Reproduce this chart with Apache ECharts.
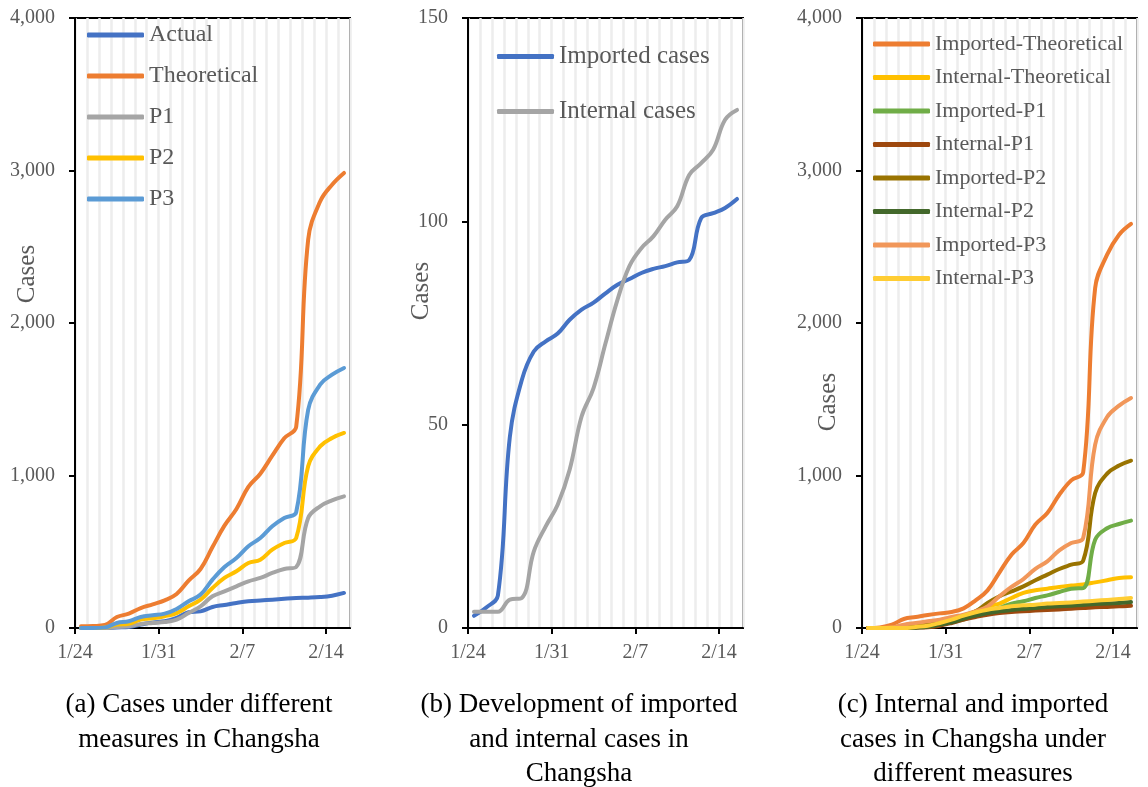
<!DOCTYPE html>
<html>
<head>
<meta charset="utf-8">
<script src="https://cdn.jsdelivr.net/npm/echarts@6/dist/echarts.min.js"></script>
<style>
html, body { margin: 0; padding: 0; background: #fff; }
#chart { width: 1148px; height: 787px; }
</style>
</head>
<body>
<div id="chart"></div>
<script>
// day index 0 = 1/24 ... 22 = 2/15
const tickDays = [0, 7, 14, 21];
const tickLabels = ['1/24', '1/31', '2/7', '2/14'];

// (a) cases under different measures
const actual      = [0, 0, 0, 4, 7, 22, 37, 44, 66, 103, 109, 138, 151, 164, 175, 181, 186, 192, 197, 199, 203, 212, 230];
const theoretical = [11, 13, 20, 72, 94, 131, 155, 181, 223, 310, 387, 531, 671, 780, 925, 1012, 1130, 1244, 1320, 2546, 2797, 2907, 2984];
const p1          = [0, 0, 0, 7, 11, 26, 33, 39, 55, 98, 142, 208, 240, 273, 306, 328, 361, 387, 400, 721, 798, 837, 863];
const p2          = [0, 0, 4, 22, 28, 55, 63, 77, 98, 142, 186, 262, 328, 372, 426, 448, 514, 557, 590, 1060, 1191, 1246, 1279];
const p3          = [0, 0, 4, 33, 44, 72, 83, 94, 125, 175, 219, 317, 400, 459, 536, 590, 667, 721, 759, 1430, 1596, 1661, 1705];

// (b) imported and internal cases
const importedCases = [3, 5, 8, 47, 61, 68, 70.5, 72.4, 75.8, 78.3, 80, 82.3, 84.4, 85.8, 87.3, 88.3, 89, 89.9, 90.5, 100.8, 102, 103.3, 105.5];
const internalCases = [4, 4, 4, 7, 7.4, 18.8, 25, 30.3, 38.9, 52, 59, 70, 80.7, 89, 93.4, 96.3, 100.4, 103.7, 111.4, 114.3, 117.6, 125, 127.4];

// (c) internal and imported cases under different measures
const impTheo = [0, 4, 22, 59, 72, 85, 96, 105, 129, 181, 247, 365, 481, 557, 678, 754, 874, 968, 1021, 2230, 2448, 2579, 2650];
const intTheo = [0, 0, 4, 15, 22, 33, 44, 59, 81, 109, 142, 160, 197, 230, 247, 258, 269, 278, 286, 299, 313, 328, 332];
const impP1   = [0, 0, 0, 2, 5, 11, 22, 37, 55, 81, 109, 131, 160, 175, 197, 214, 236, 258, 262, 579, 654, 682, 704];
const intP1   = [0, 0, 0, 0, 2, 5, 15, 33, 55, 72, 87, 98, 105, 109, 114, 118, 122, 127, 131, 136, 138, 142, 146];
const impP2   = [0, 0, 0, 4, 11, 22, 37, 55, 81, 109, 164, 208, 240, 273, 313, 350, 387, 415, 442, 885, 1012, 1065, 1097];
const intP2   = [0, 0, 0, 0, 2, 8, 22, 37, 61, 81, 98, 109, 118, 125, 131, 138, 142, 146, 151, 157, 160, 164, 170];
const impP3   = [0, 0, 3, 22, 33, 44, 55, 72, 87, 109, 142, 208, 269, 321, 387, 437, 509, 557, 590, 1202, 1384, 1458, 1508];
const intP3   = [0, 0, 0, 0, 7, 15, 33, 55, 81, 103, 120, 131, 142, 149, 153, 160, 164, 168, 173, 179, 184, 190, 197];

const serif = "'Liberation Serif', 'Times New Roman', serif";
const gray = '#595959';

const grids = [
  { left: 75, top: 18, width: 275, height: 610 },
  { left: 468, top: 18, width: 275, height: 610 },
  { left: 862, top: 18, width: 275, height: 610 }
];

function line(name, data, color, idx) {
  return {
    type: 'line',
    name: name,
    xAxisIndex: idx,
    yAxisIndex: idx,
    data: data.map((v, i) => [i + 0.5, v]),
    smooth: 0.4,
    symbol: 'none',
    lineStyle: { width: 4, color: color, cap: 'round', join: 'round' },
    itemStyle: { color: color }
  };
}

const xAxes = [];
const yAxes = [];
grids.forEach((g, i) => {
  // visible axis: ticks and labels only at week marks
  xAxes.push({
    type: 'value', gridIndex: i, min: 0, max: 23, position: 'bottom',
    axisLine: { show: true, lineStyle: { color: '#000', width: 2 } },
    axisTick: { show: true, customValues: tickDays, length: 6, lineStyle: { color: '#000', width: 2 } },
    axisLabel: {
      customValues: tickDays, margin: 15, color: gray, fontSize: 20, fontFamily: serif,
      formatter: v => tickLabels[tickDays.indexOf(v)] || ''
    },
    splitLine: { show: false }
  });
  const yMax = i === 1 ? 150 : 4000;
  yAxes.push({
    type: 'value', gridIndex: i, min: 0, max: yMax, interval: yMax / (i === 1 ? 3 : 4),
    axisLine: { show: true, lineStyle: { color: '#000', width: 2 } },
    axisTick: { show: true, length: 6, lineStyle: { color: '#000', width: 2 } },
    axisLabel: {
      margin: 20, color: gray, fontSize: 20, fontFamily: serif,
      formatter: v => v.toLocaleString('en-US')
    },
    splitLine: { show: false }
  });
});
// hidden axes that only draw the daily gridlines
grids.forEach((g, i) => {
  xAxes.push({
    type: 'value', gridIndex: i, min: 0, max: 23, interval: 1, position: 'top',
    axisLine: { show: false }, axisTick: { show: false }, axisLabel: { show: false },
    splitLine: { show: true, lineStyle: { color: '#EDEDED', width: 2.5 } }
  });
});

function legend(names, left, top, gap, size) {
  return {
    data: names, orient: 'vertical', left: left, top: top, itemGap: gap, padding: 0,
    icon: 'roundRect', itemWidth: 57, itemHeight: 5,
    textStyle: { color: gray, fontSize: size, fontFamily: serif },
    selectedMode: false
  };
}

function yName(text, x, y) {
  return {
    type: 'text', x: x, y: y, rotation: Math.PI / 2,
    style: { text: text, fill: gray, font: '25px ' + serif, textAlign: 'center', textVerticalAlign: 'middle' }
  };
}

function caption(text, x) {
  return {
    text: text, left: x, top: 688, textAlign: 'center', padding: 0,
    textStyle: { color: '#000', fontSize: 27, fontWeight: 'normal', fontFamily: serif, lineHeight: 34.5 }
  };
}

const option = {
  animation: false,
  backgroundColor: '#fff',
  grid: grids.map(g => Object.assign({ show: true, borderColor: '#000', borderWidth: 2, backgroundColor: 'transparent' }, g)),
  xAxis: xAxes,
  yAxis: yAxes,
  legend: [
    legend(['Actual', 'Theoretical', 'P1', 'P2', 'P3'], 87, 23, 17, 24),
    legend(['Imported cases', 'Internal cases'], 497, 44, 30, 25),
    legend(['Imported-Theoretical', 'Internal-Theoretical', 'Imported-P1', 'Internal-P1',
            'Imported-P2', 'Internal-P2', 'Imported-P3', 'Internal-P3'], 873, 33, 11.5, 22)
  ],
  title: [
    caption('(a) Cases under different\nmeasures in Changsha', 199),
    caption('(b) Development of imported\nand internal cases in\nChangsha', 579),
    caption('(c) Internal and imported\ncases in Changsha under\ndifferent measures', 973)
  ],
  graphic: [
    yName('Cases', 27, 274),
    yName('Cases', 421, 291),
    yName('Cases', 828, 402)
  ],
  series: [
    line('Actual', actual, '#4472C4', 0),
    line('Theoretical', theoretical, '#ED7D31', 0),
    line('P1', p1, '#A5A5A5', 0),
    line('P2', p2, '#FFC000', 0),
    line('P3', p3, '#5B9BD5', 0),
    line('Imported cases', importedCases, '#4472C4', 1),
    line('Internal cases', internalCases, '#A5A5A5', 1),
    line('Imported-Theoretical', impTheo, '#ED7D31', 2),
    line('Internal-Theoretical', intTheo, '#FFC000', 2),
    line('Imported-P1', impP1, '#70AD47', 2),
    line('Internal-P1', intP1, '#9E480E', 2),
    line('Imported-P2', impP2, '#997300', 2),
    line('Internal-P2', intP2, '#43682B', 2),
    line('Imported-P3', impP3, '#F1975A', 2),
    line('Internal-P3', intP3, '#FFCD33', 2)
  ]
};

const chart = echarts.init(document.getElementById('chart'));
chart.setOption(option);
</script>
</body>
</html>
